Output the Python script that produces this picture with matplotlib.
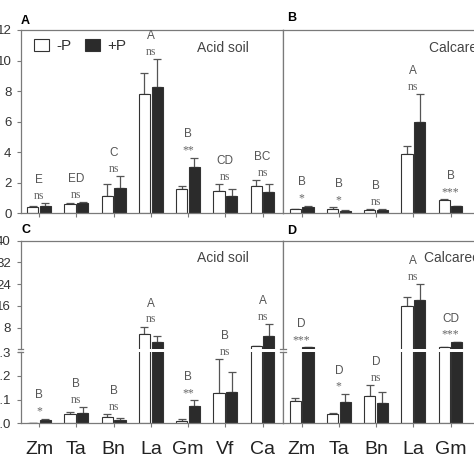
import numpy as np
import matplotlib.pyplot as plt

plt.rcParams['font.family'] = ['Liberation Sans', 'DejaVu Sans']

species_acid = ['Zm', 'Ta', 'Bn', 'La', 'Gm', 'Vf', 'Ca']
species_calc = ['Zm', 'Ta', 'Bn', 'La', 'Gm']

# A - acid soil (top row)
a_minus = [0.42, 0.60, 1.12, 7.80, 1.57, 1.48, 1.80]
a_minus_err = [0.05, 0.08, 0.80, 1.40, 0.22, 0.44, 0.35]
a_plus = [0.50, 0.65, 1.68, 8.25, 3.05, 1.13, 1.37]
a_plus_err = [0.18, 0.08, 0.77, 1.83, 0.60, 0.44, 0.57]
a_letters = ['E', 'ED', 'C', 'A', 'B', 'CD', 'BC']
a_sig = ['ns', 'ns', 'ns', 'ns', '**', 'ns', 'ns']

# B - calcareous soil (top row)
b_minus = [0.28, 0.30, 0.19, 3.88, 0.87]
b_minus_err = [0.03, 0.08, 0.08, 0.55, 0.05]
b_plus = [0.41, 0.17, 0.19, 6.00, 0.46]
b_plus_err = [0.10, 0.02, 0.08, 1.83, 0.04]
b_letters = ['B', 'B', 'B', 'A', 'B']
b_sig = ['*', '*', 'ns', 'ns', '***']

# C - acid soil (bottom row, broken axis)
c_minus = [0.003, 0.038, 0.025, 5.7, 0.010, 0.127, 1.3]
c_minus_err = [0.0, 0.010, 0.015, 2.7, 0.008, 0.143, 0.0]
c_plus = [0.014, 0.042, 0.013, 2.9, 0.073, 0.131, 5.1]
c_plus_err = [0.006, 0.028, 0.011, 2.0, 0.025, 0.087, 4.2]
c_letters = ['B', 'B', 'B', 'A', 'B', 'B', 'A']
c_sig = ['*', 'ns', 'ns', 'ns', '**', 'ns', 'ns']

# D - calcareous soil (bottom row, broken axis)
d_minus = [0.095, 0.038, 0.115, 16.1, 1.0]
d_minus_err = [0.014, 0.005, 0.048, 3.3, 0.0]
d_plus = [0.9, 0.090, 0.085, 18.2, 2.65]
d_plus_err = [0.0, 0.035, 0.046, 5.8, 0.2]
d_letters = ['D', 'D', 'D', 'A', 'CD']
d_sig = ['***', '*', 'ns', 'ns', '***']

BREAK = 0.3
dark = '#2b2b2b'
edge = '#333333'
spine_c = '#7a7a7a'
txt_c = '#333333'
lab_c = '#555555'
W = 0.3
OFF = 0.17

H = 474.0
def fr(px):
    return px / H

fig = plt.figure(figsize=(4.74, 4.74), dpi=100)

left_l, left_r, width = fr(20.5), fr(283), fr(262.5)
top_b, top_h = 1 - fr(213.3), fr(183.3)
up_b, up_h = 1 - fr(348.7), fr(108.0)
lo_b, lo_h = 1 - fr(423.3), fr(71.0)


def style(ax):
    for s in ax.spines.values():
        s.set_color(spine_c)
        s.set_linewidth(0.9)
    ax.tick_params(colors=spine_c, labelcolor=txt_c, length=3, width=0.8, labelsize=9.5)
    ax.set_xlim(-0.5, 6.55)


def bars(ax, minus, plus, merr, perr, floor=None):
    minus, plus = np.asarray(minus, float), np.asarray(plus, float)
    merr, perr = np.asarray(merr, float), np.asarray(perr, float)
    x = np.arange(len(minus))
    for xs, vals, errs, col, lab in [(x - OFF, minus, merr, 'white', '-P'),
                                     (x + OFF, plus, perr, dark, '+P')]:
        keep = np.ones(len(vals), bool) if floor is None else vals > floor
        ax.errorbar(xs[keep], vals[keep], yerr=[np.zeros(keep.sum()), errs[keep]], fmt='none',
                    ecolor='#555555', elinewidth=0.9, capsize=3, capthick=0.9, zorder=1)
        ax.bar(xs[keep], vals[keep], W, color=col, edgecolor=edge, linewidth=0.8,
               zorder=2, label=lab)


def annotate(ax_lo, ax_hi, minus, plus, merr, perr, letters, sig):
    for i in range(len(minus)):
        top = max(minus[i] + merr[i], plus[i] + perr[i])
        ax = ax_lo if (ax_hi is None or top <= BREAK) else ax_hi
        ax.annotate(sig[i], (i, top), xytext=(0, 3), textcoords='offset points',
                    ha='center', va='baseline', fontsize=8.5, color='#666666',
                    family='Liberation Serif', annotation_clip=False)
        ax.annotate(letters[i], (i, top), xytext=(0, 14.5), textcoords='offset points',
                    ha='center', va='baseline', fontsize=8.5, color=lab_c, annotation_clip=False)


# ---- top row ----
axA = fig.add_axes([left_l, top_b, width, top_h])
axB = fig.add_axes([left_r, top_b, width, top_h])
for ax, mi, pl, me, pe, lt, sg, sp in [
        (axA, a_minus, a_plus, a_minus_err, a_plus_err, a_letters, a_sig, species_acid),
        (axB, b_minus, b_plus, b_minus_err, b_plus_err, b_letters, b_sig, species_calc)]:
    style(ax)
    bars(ax, mi, pl, me, pe)
    ax.set_ylim(0, 12)
    ax.set_yticks(np.arange(0, 13, 2))
    ax.set_xticks(np.arange(len(sp)))
    ax.set_xticklabels([])
    annotate(ax, None, mi, pl, me, pe, lt, sg)
axB.tick_params(axis='y', left=False, labelleft=False)
axA.legend(loc='upper left', bbox_to_anchor=(0.051, 0.951), ncol=2, frameon=False,
           fontsize=11, handlelength=1.0, handleheight=0.8, handletextpad=0.45,
           columnspacing=0.9, borderpad=0, borderaxespad=0, labelcolor=txt_c)
axA.text(0.77, 0.90, 'Acid soil', transform=axA.transAxes, ha='center', va='center',
         fontsize=10, color='#444444')
axB.text(0.556, 0.90, 'Calcareous soil', transform=axB.transAxes, ha='left', va='center',
         fontsize=10, color='#444444')

# ---- bottom row (broken y axis) ----
for left, mi, pl, me, pe, lt, sg, sp, first in [
        (left_l, c_minus, c_plus, c_minus_err, c_plus_err, c_letters, c_sig, species_acid, True),
        (left_r, d_minus, d_plus, d_minus_err, d_plus_err, d_letters, d_sig, species_calc, False)]:
    hi = fig.add_axes([left, up_b, width, up_h])
    lo = fig.add_axes([left, lo_b, width, lo_h])
    style(hi)
    style(lo)
    bars(hi, mi, pl, me, pe, floor=BREAK)
    bars(lo, mi, pl, me, pe)
    hi.set_ylim(BREAK, 40)
    hi.set_yticks([8, 16, 24, 32, 40])
    hi.spines['bottom'].set_visible(False)
    hi.tick_params(axis='x', bottom=False, labelbottom=False)
    lo.set_ylim(0, BREAK)
    lo.set_yticks([0.0, 0.1, 0.2, 0.3])
    lo.set_yticklabels(['0.0', '0.1', '0.2', '0.3'])
    lo.spines['top'].set_visible(False)
    lo.set_xticks(np.arange(len(sp)))
    lo.set_xticklabels(sp, fontsize=14, color='#222222')
    lo.tick_params(axis='x', pad=10)
    if first:
        for ax in (hi, lo):
            ax.tick_params(axis='y', pad=4)
    else:
        for ax in (hi, lo):
            ax.tick_params(axis='y', left=False, labelleft=False)
    # break marks on the left spine
    hi.plot([-0.01, 0.01], [0, 0], transform=hi.transAxes, color=spine_c, lw=0.9, clip_on=False)
    lo.plot([-0.01, 0.01], [1, 1], transform=lo.transAxes, color=spine_c, lw=0.9, clip_on=False)
    annotate(lo, hi, mi, pl, me, pe, lt, sg)
    if first:
        hi.text(0.77, 0.84, 'Acid soil', transform=hi.transAxes, ha='center', va='center',
                fontsize=10, color='#444444')
    else:
        hi.text(0.538, 0.84, 'Calcareous soil', transform=hi.transAxes, ha='left', va='center',
                fontsize=10, color='#444444')

for lab, x, y in [('A', 25.5, 21.5), ('B', 292, 18), ('C', 26, 230), ('D', 292, 231)]:
    fig.text(fr(x), 1 - fr(y), lab, ha='center', va='center', fontsize=9, fontweight='bold')

fig.savefig('out.png', dpi=100)
